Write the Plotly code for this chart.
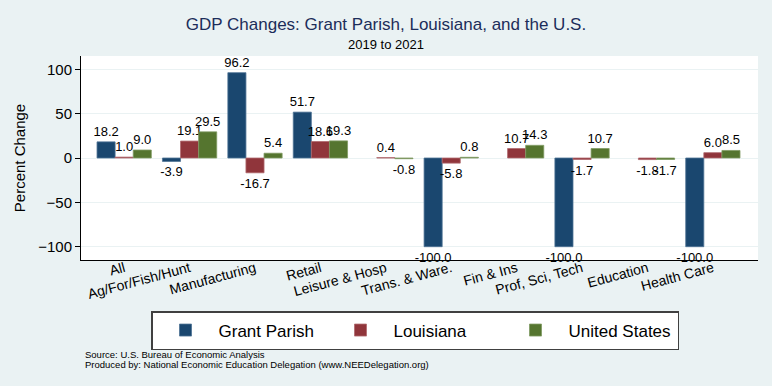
import plotly.graph_objects as go

categories = ["All", "Ag/For/Fish/Hunt", "Manufacturing", "Retail", "Leisure & Hosp",
              "Trans. & Ware.", "Fin & Ins", "Prof, Sci, Tech", "Education", "Health Care"]
grant_parish = [18.2, -3.9, 96.2, 51.7, None, -100.0, None, -100.0, None, -100.0]
louisiana = [1.0, 19.1, -16.7, 18.6, 0.4, -5.8, 10.7, -1.7, -1.8, 6.0]
united_states = [9.0, 29.5, 5.4, 19.3, -0.8, 0.8, 14.3, 10.7, -1.7, 8.5]
y_ticks = [-100, -50, 0, 50, 100]

series = [
    ("Grant Parish", grant_parish, "#1a476f", "#4f7396"),
    ("Louisiana", louisiana, "#90353b", "#b06a6f"),
    ("United States", united_states, "#55752f", "#809a63"),
]

x_idx = list(range(len(categories)))

fig = go.Figure()
for name, vals, col, edge in series:
    fig.add_trace(go.Bar(
        x=x_idx, y=vals, name=name,
        marker=dict(color=col, line=dict(color=edge, width=0.8)),
        text=[("%.1f" % v) if v is not None else "" for v in vals],
        textposition="outside", constraintext="none", cliponaxis=False,
        textfont=dict(size=13, color="black", family="Liberation Sans, Arial, sans-serif"),
    ))

fig.update_layout(
    width=772, height=386,
    paper_bgcolor="#EAF2F3", plot_bgcolor="white",
    margin=dict(l=81, r=14, t=56, b=126, autoexpand=False),
    barmode="group", bargap=0.17, bargroupgap=0,
    font=dict(family="Liberation Sans, Arial, sans-serif", color="black"),
    title=dict(text="GDP Changes: Grant Parish, Louisiana, and the U.S.",
               x=0.5, xanchor="center", xref="container",
               y=1 - 24 / 386, yanchor="middle", yref="container",
               font=dict(size=17, color="#1c2d5a")),
    showlegend=True,
    legend=dict(orientation="h", xref="container", yref="container",
                x=151 / 772, xanchor="left", y=1 - 311 / 386, yanchor="top",
                bgcolor="white", bordercolor="#404040", borderwidth=1.5,
                font=dict(size=17), itemwidth=56, entrywidth=104, entrywidthmode="pixels",
                traceorder="normal", tracegroupgap=0),
)

fig.update_xaxes(
    range=[-0.66, 9.69], tickmode="array", tickvals=x_idx, ticktext=categories,
    tickangle=-15, tickfont=dict(size=14), showline=True, linecolor="black",
    linewidth=1, showgrid=False, ticks="", zeroline=False, fixedrange=True,
    automargin=False, ticklabelstandoff=-6,
)
fig.update_yaxes(
    range=[-115, 115], tickmode="array", tickvals=y_ticks, ticks="outside",
    ticklen=5, tickcolor="black", tickfont=dict(size=15),
    showline=True, linecolor="black", linewidth=1,
    showgrid=True, gridcolor="#EAF2F3", gridwidth=1, zeroline=False,
    title=dict(text="Percent Change", font=dict(size=15), standoff=8),
    automargin=False, fixedrange=True,
)

fig.add_annotation(text="2019 to 2021", xref="paper", yref="paper",
                   x=(386 - 81) / 677, y=(260 - 45) / 204, showarrow=False,
                   xanchor="center", yanchor="middle", font=dict(size=13, color="black"))
fig.add_annotation(text="Source: U.S. Bureau of Economic Analysis", xref="paper", yref="paper",
                   x=(83 - 81) / 677, y=(260 - 354) / 204, showarrow=False,
                   xanchor="left", yanchor="middle", font=dict(size=9.5, color="black"))
fig.add_annotation(text="Produced by: National Economic Education Delegation (www.NEEDelegation.org)",
                   xref="paper", yref="paper",
                   x=(83 - 81) / 677, y=(260 - 364) / 204, showarrow=False,
                   xanchor="left", yanchor="middle", font=dict(size=9.5, color="black"))

fig.write_html("out.html", config={"displayModeBar": False},
               post_script="document.body.style.margin='0';")
